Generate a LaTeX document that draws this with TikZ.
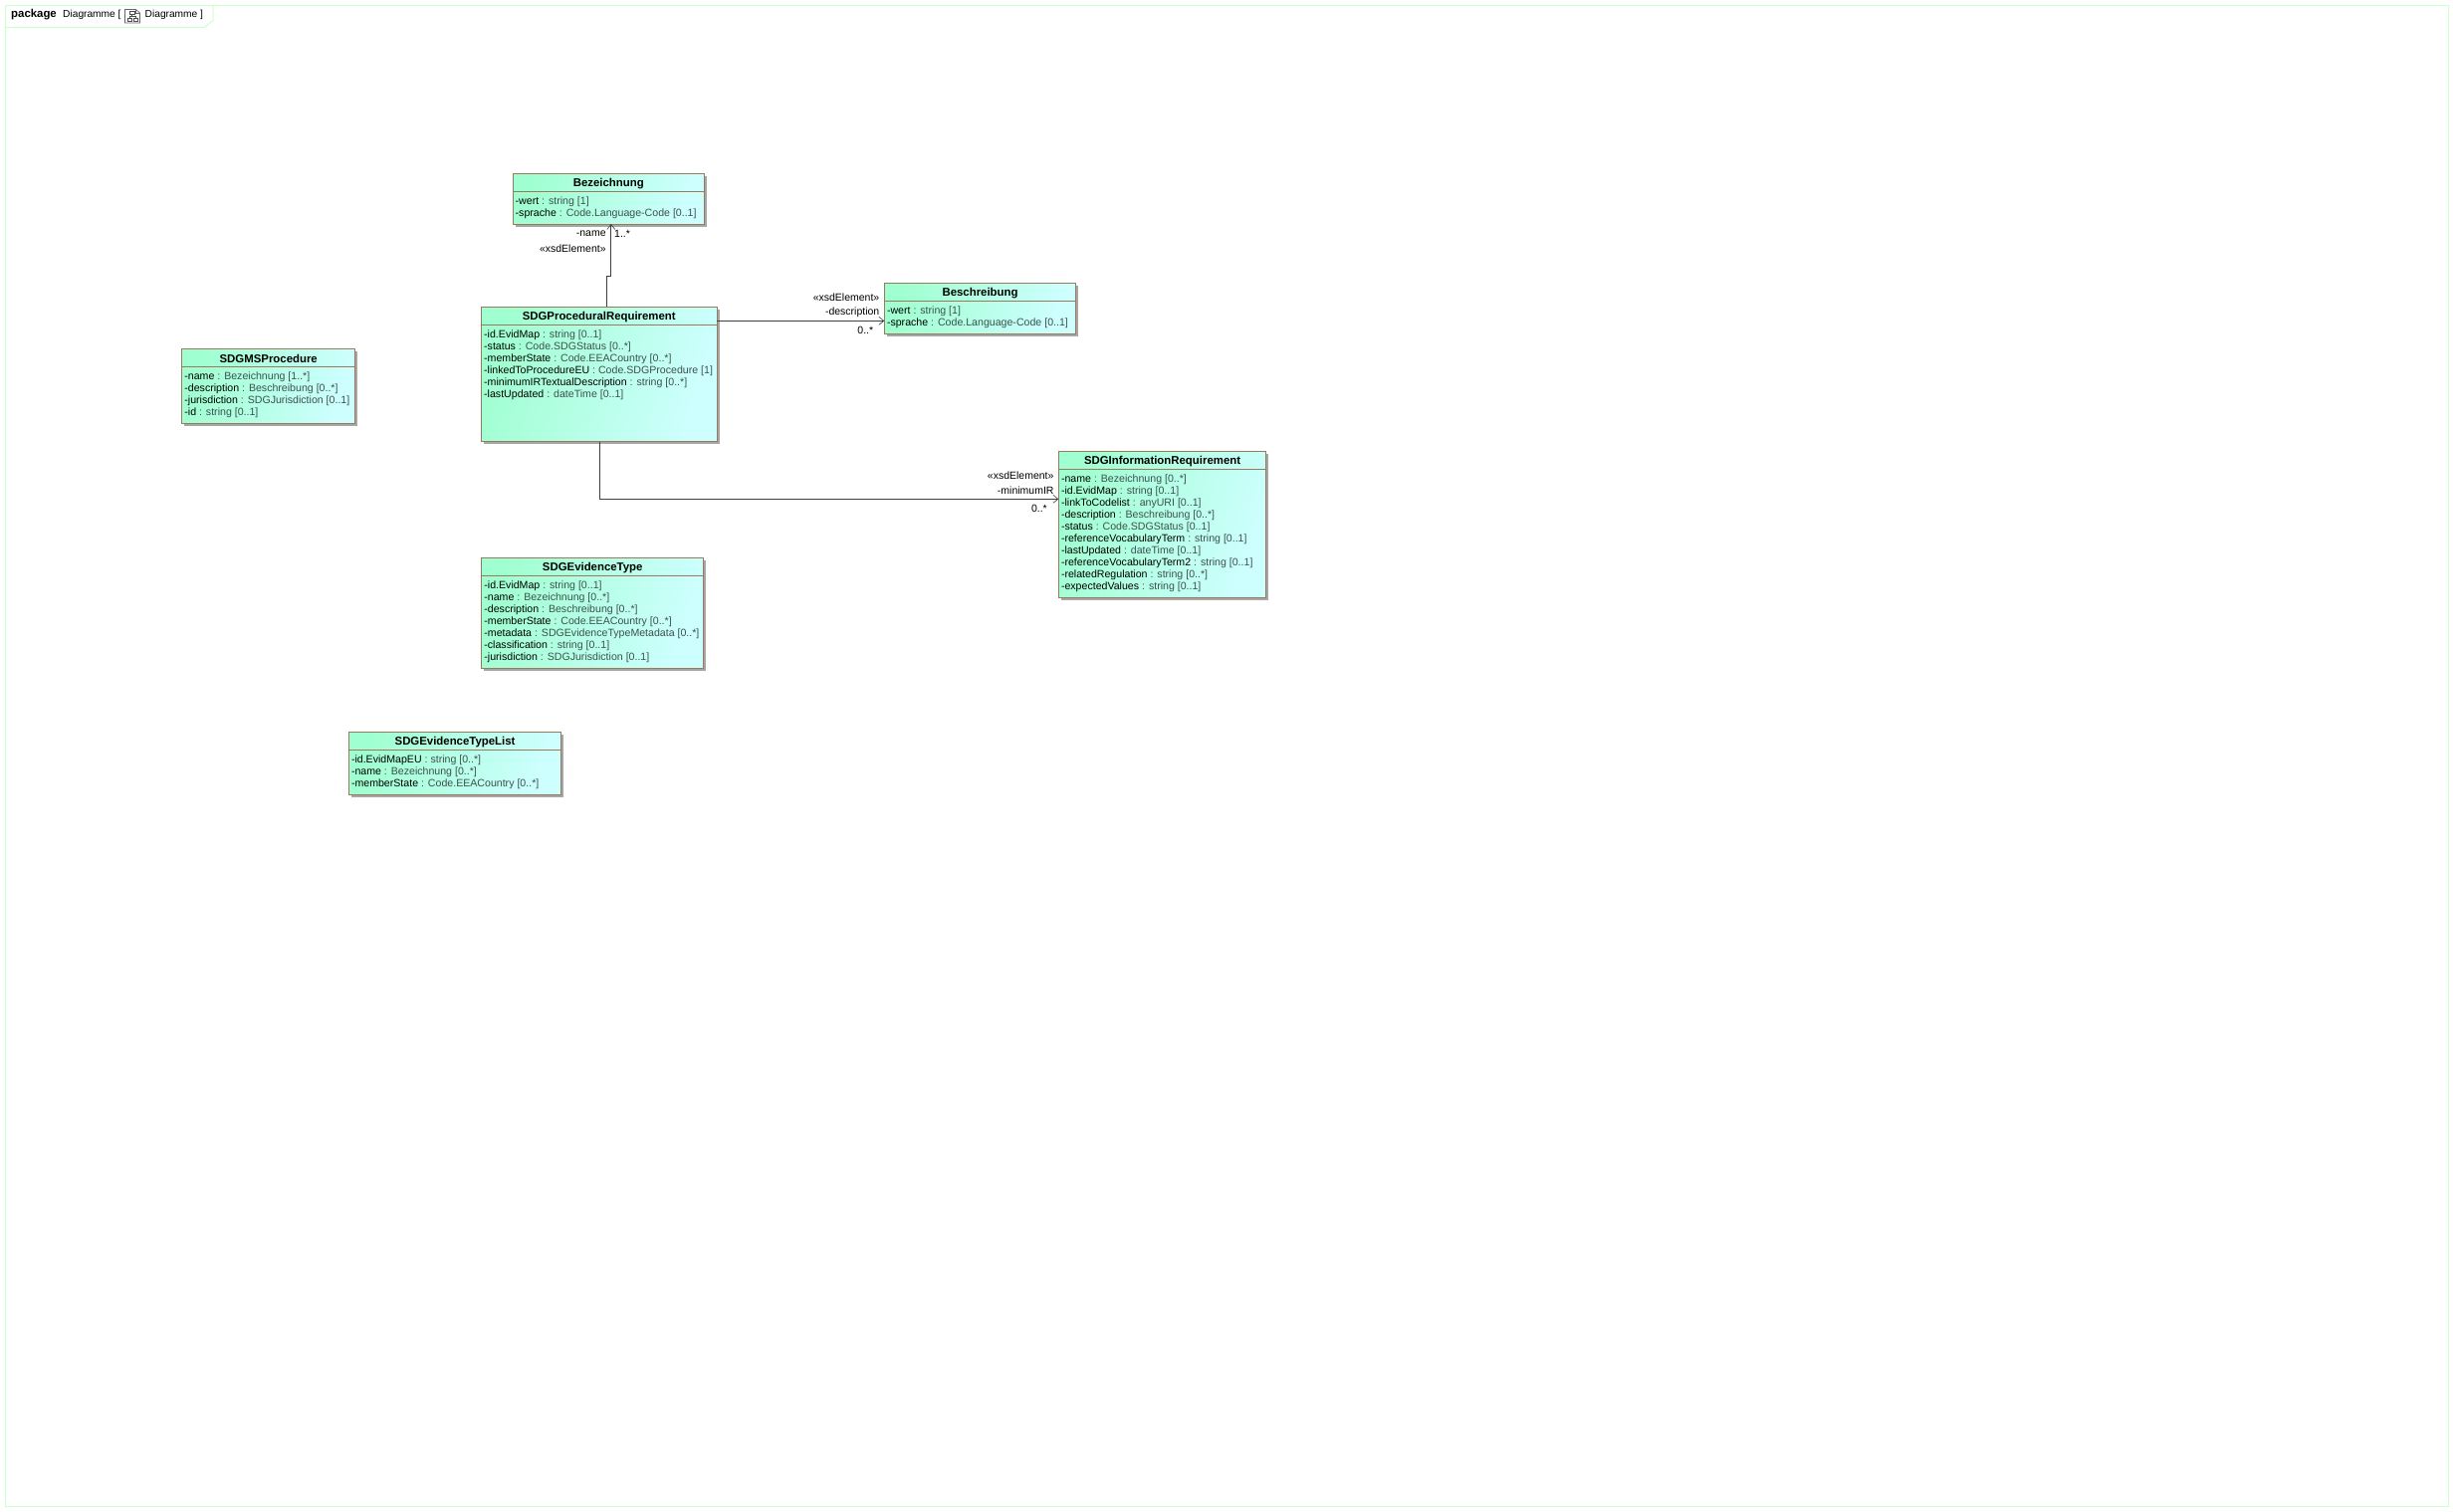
\documentclass[tikz,border=0pt]{standalone}
\usepackage{fontspec}
\setmainfont{Liberation Sans}
\usetikzlibrary{arrows.meta,shadows}
\definecolor{figFrame}{RGB}{204,255,204}
\definecolor{figEdge}{RGB}{153,122,90}
\definecolor{figGreen}{RGB}{160,255,208}
\definecolor{figCyan}{RGB}{206,255,255}
\definecolor{figType}{RGB}{60,80,80}
\pgfdeclarehorizontalshading{classfill}{100bp}{color(0bp)=(figGreen); color(25bp)=(figGreen); color(75bp)=(figCyan); color(100bp)=(figCyan)}
\newcommand{\attr}[2]{#1\ {\color{figType}: #2}}
\tikzset{
  classbox/.style={draw=figEdge,line width=1pt,anchor=north west,inner sep=0pt,outer sep=0pt,shade,shading=classfill,shading angle=-18,
    drop shadow={shadow xshift=2.5pt,shadow yshift=-2.5pt,opacity=1,fill=black!35}},
  classname/.style={font=\fontsize{11.4}{12}\selectfont\bfseries,inner sep=0pt},
  attrs/.style={font=\fontsize{10.6}{12}\selectfont,align=left,inner sep=0pt,anchor=north west},
  rolelabel/.style={font=\fontsize{10.5}{12}\selectfont,inner sep=0pt,anchor=east},
  tablabel/.style={font=\fontsize{10.2}{12}\selectfont,inner sep=0pt,anchor=west},
  assoc/.style={draw=black!75,line width=1pt,-{Straight Barb[length=5pt,width=8pt,line width=.6pt]}}
}
\begin{document}
\begin{tikzpicture}[x=1pt,y=-1pt]
\useasboundingbox (0,0) rectangle (2464,1518);
\fill[white] (0,0) rectangle (2464,1518);
\draw[figFrame,line width=1pt] (5.5,5.5) rectangle (2459,1513);
\draw[figFrame,line width=1pt] (5.5,27.5) -- (205.5,27.5) -- (214,20.5) -- (214,5.5);
\node[tablabel,font=\fontsize{11.4}{12}\selectfont\bfseries] (pkgWord) at (11,14.5) {package};
\node[tablabel] (pkgName) at (63,14.5) {Diagramme [};
\node[tablabel] (pkgDiag) at (145.5,14.5) {Diagramme ]};
% little diagram icon
\draw[black!60,line width=.7pt] (125.5,9.5) -- (136.5,9.5) -- (140.5,13) -- (140.5,23) -- (125.5,23) -- cycle;
\draw[black!60,line width=.7pt] (136.5,9.5) -- (136.5,13) -- (140.5,13);
\draw[black!70,line width=.7pt] (130,11.5) rectangle (135,14.5) (128,18) rectangle (132,21) (134,18) rectangle (138.5,21);
\draw[black!70,line width=.7pt] (132.5,14.5) -- (132.5,16.5) (130,18) -- (130,16.5) -- (136,16.5) -- (136,18);
% classes
\node[classbox,minimum width=192.5pt,minimum height=50.5pt] (bez) at (515,174.5) {};
\draw[figEdge,line width=1pt] ([yshift=-18pt]bez.north west) -- ([yshift=-18pt]bez.north east);
\node[classname] (bezName) at ([yshift=-10pt]bez.north) {Bezeichnung};
\node[attrs] (bezAttrs) at ([xshift=2.5pt,yshift=-23pt]bez.north west) {\attr{-wert}{string [1]}\\\attr{-sprache}{Code.Language-Code [0..1]}};
\node[classbox,minimum width=236.5pt,minimum height=135.5pt] (proc) at (483.5,308.3) {};
\draw[figEdge,line width=1pt] ([yshift=-18pt]proc.north west) -- ([yshift=-18pt]proc.north east);
\node[classname] (procName) at ([yshift=-10pt]proc.north) {SDGProceduralRequirement};
\node[attrs] (procAttrs) at ([xshift=2.5pt,yshift=-23pt]proc.north west) {\attr{-id.EvidMap}{string [0..1]}\\\attr{-status}{Code.SDGStatus [0..*]}\\\attr{-memberState}{Code.EEACountry [0..*]}\\\attr{-linkedToProcedureEU}{Code.SDGProcedure [1]}\\\attr{-minimumIRTextualDescription}{string [0..*]}\\\attr{-lastUpdated}{dateTime [0..1]}};
\node[classbox,minimum width=192.5pt,minimum height=51pt] (besch) at (888.3,284.3) {};
\draw[figEdge,line width=1pt] ([yshift=-18pt]besch.north west) -- ([yshift=-18pt]besch.north east);
\node[classname] (beschName) at ([yshift=-10pt]besch.north) {Beschreibung};
\node[attrs] (beschAttrs) at ([xshift=2.5pt,yshift=-23pt]besch.north west) {\attr{-wert}{string [1]}\\\attr{-sprache}{Code.Language-Code [0..1]}};
\node[classbox,minimum width=174pt,minimum height=75pt] (ms) at (182.7,350.7) {};
\draw[figEdge,line width=1pt] ([yshift=-18pt]ms.north west) -- ([yshift=-18pt]ms.north east);
\node[classname] (msName) at ([yshift=-10pt]ms.north) {SDGMSProcedure};
\node[attrs] (msAttrs) at ([xshift=2.5pt,yshift=-23pt]ms.north west) {\attr{-name}{Bezeichnung [1..*]}\\\attr{-description}{Beschreibung [0..*]}\\\attr{-jurisdiction}{SDGJurisdiction [0..1]}\\\attr{-id}{string [0..1]}};
\node[classbox,minimum width=208.5pt,minimum height=147pt] (info) at (1063.3,453.7) {};
\draw[figEdge,line width=1pt] ([yshift=-18pt]info.north west) -- ([yshift=-18pt]info.north east);
\node[classname] (infoName) at ([yshift=-10pt]info.north) {SDGInformationRequirement};
\node[attrs] (infoAttrs) at ([xshift=2.5pt,yshift=-23pt]info.north west) {\attr{-name}{Bezeichnung [0..*]}\\\attr{-id.EvidMap}{string [0..1]}\\\attr{-linkToCodelist}{anyURI [0..1]}\\\attr{-description}{Beschreibung [0..*]}\\\attr{-status}{Code.SDGStatus [0..1]}\\\attr{-referenceVocabularyTerm}{string [0..1]}\\\attr{-lastUpdated}{dateTime [0..1]}\\\attr{-referenceVocabularyTerm2}{string [0..1]}\\\attr{-relatedRegulation}{string [0..*]}\\\attr{-expectedValues}{string [0..1]}};
\node[classbox,minimum width=223pt,minimum height=111pt] (evType) at (483.7,560.3) {};
\draw[figEdge,line width=1pt] ([yshift=-18pt]evType.north west) -- ([yshift=-18pt]evType.north east);
\node[classname] (evTypeName) at ([yshift=-10pt]evType.north) {SDGEvidenceType};
\node[attrs] (evTypeAttrs) at ([xshift=2.5pt,yshift=-23pt]evType.north west) {\attr{-id.EvidMap}{string [0..1]}\\\attr{-name}{Bezeichnung [0..*]}\\\attr{-description}{Beschreibung [0..*]}\\\attr{-memberState}{Code.EEACountry [0..*]}\\\attr{-metadata}{SDGEvidenceTypeMetadata [0..*]}\\\attr{-classification}{string [0..1]}\\\attr{-jurisdiction}{SDGJurisdiction [0..1]}};
\node[classbox,minimum width=213.5pt,minimum height=62.5pt] (evList) at (350.3,735.7) {};
\draw[figEdge,line width=1pt] ([yshift=-18pt]evList.north west) -- ([yshift=-18pt]evList.north east);
\node[classname] (evListName) at ([yshift=-10pt]evList.north) {SDGEvidenceTypeList};
\node[attrs] (evListAttrs) at ([xshift=2.5pt,yshift=-23pt]evList.north west) {\attr{-id.EvidMapEU}{string [0..*]}\\\attr{-name}{Bezeichnung [0..*]}\\\attr{-memberState}{Code.EEACountry [0..*]}};
% associations
\draw[assoc] ([xshift=8pt]proc.north) -- ++(0,-31) -- ++(4,0) -- ([xshift=2.5pt]bez.south);
\draw[assoc] (proc.east |- 0,322.3) -- (besch.west |- 0,322.3);
\draw[assoc] ([xshift=.5pt]proc.south) -- ([xshift=.5pt]proc.south |- 0,501.3) -- (info.west |- 0,501.3);
\node[rolelabel] (nameRole) at (608.8,234.8) {-name};
\node[rolelabel,anchor=west] (nameMult) at (617,234.8) {1..*};
\node[rolelabel] (nameStereo) at (608.8,249.8) {«xsdElement»};
\node[rolelabel] (descStereo) at (883.5,298.8) {«xsdElement»};
\node[rolelabel] (descRole) at (883.5,313.8) {-description};
\node[rolelabel] (descMult) at (877.4,331.5) {0..*};
\node[rolelabel] (minStereo) at (1058.7,478.2) {«xsdElement»};
\node[rolelabel] (minRole) at (1058.7,493.2) {-minimumIR};
\node[rolelabel] (minMult) at (1052,510.5) {0..*};
\end{tikzpicture}
\end{document}
